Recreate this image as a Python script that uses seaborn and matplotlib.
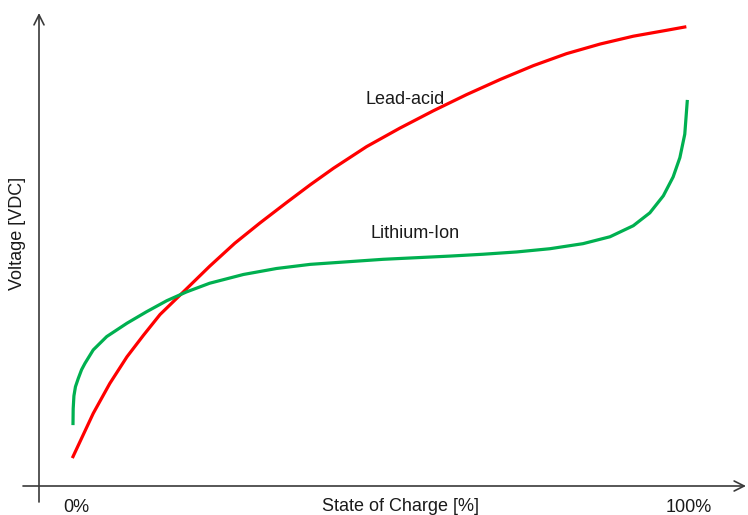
import seaborn as sns
import matplotlib.pyplot as plt
import pandas as pd

plt.rcParams['font.family'] = ['Liberation Sans', 'DejaVu Sans']

# state of charge (%) vs voltage (arbitrary units)
lead_soc = [0, 3.3, 6.0, 8.8, 11.5, 14.2, 18.3, 22.3, 26.4, 30.5, 34.9, 38.7, 42.5, 47.9,
            53.3, 58.8, 64.2, 69.7, 75.1, 80.5, 86.0, 91.4, 96.9, 99.8]
lead_v = [6.6, 16.0, 22.5, 28.3, 33.0, 37.5, 42.8, 48.0, 53.0, 57.4, 61.9, 65.7, 69.3, 74.0,
          78.0, 81.8, 85.3, 88.6, 91.6, 94.2, 96.3, 98.0, 99.3, 100.0]

li_soc = [0, 0.03, 0.15, 0.4, 0.86, 1.4, 1.96, 3.3, 5.5, 8.8, 12.0, 15.3, 18.5, 22.3, 27.8,
          33.2, 38.7, 50.6, 61.5, 66.9, 72.4, 77.8, 83.2, 87.6, 91.4, 94.1, 96.3, 97.9, 99.0,
          99.8, 100.2]
li_v = [13.8, 17.0, 19.8, 21.8, 23.6, 25.5, 26.9, 29.8, 32.7, 35.6, 38.1, 40.5, 42.4, 44.3,
        46.2, 47.5, 48.4, 49.5, 50.2, 50.6, 51.1, 51.8, 52.9, 54.4, 56.8, 59.6, 63.3, 67.4,
        71.6, 76.7, 83.8]

x_ticks = [0, 100]
x_tick_labels = ['0%', '100%']

lead = pd.DataFrame({'soc': lead_soc, 'v': lead_v})
li = pd.DataFrame({'soc': li_soc, 'v': li_v})

fig = plt.figure(figsize=(7.48, 5.15), dpi=100)
ax = fig.add_axes([0, 0, 1, 1])
ax.set_xlim(-73 / 6.13, (748 - 73) / 6.13)
ax.set_ylim((487 - 515) / 4.6, 487 / 4.6)
ax.axis('off')

sns.lineplot(data=lead, x='soc', y='v', sort=False, estimator=None, color='#ff0000',
             lw=2.3, solid_joinstyle='round', ax=ax)
sns.lineplot(data=li, x='soc', y='v', sort=False, estimator=None, color='#00b050',
             lw=2.3, solid_joinstyle='round', ax=ax)

# axes drawn as arrows
arrow = dict(arrowstyle='->', lw=1.2, color='#3a3a3a', mutation_scale=18, shrinkA=0, shrinkB=0)
ax.annotate('', xy=(39 / 748, 1 - 13 / 515), xytext=(39 / 748, 1 - 502 / 515),
            xycoords='figure fraction', textcoords='figure fraction', arrowprops=arrow)
ax.annotate('', xy=(746 / 748, 1 - 486 / 515), xytext=(23 / 748, 1 - 486 / 515),
            xycoords='figure fraction', textcoords='figure fraction', arrowprops=arrow)

for t, lab in zip(x_ticks, x_tick_labels):
    ax.text(t + 0.5, -4.4, lab, ha='center', va='center', fontsize=13, color='#1a1a1a')

ax.text(53.5, -4.2, 'State of Charge [%]', ha='center', va='center', fontsize=13, color='#1a1a1a')
ax.text(-9.0, 55.2, 'Voltage [VDC]', ha='center', va='center', rotation=90, fontsize=13, color='#1a1a1a')
ax.text(54.2, 84.3, 'Lead-acid', ha='center', va='center', fontsize=13, color='#1a1a1a')
ax.text(55.8, 55.0, 'Lithium-Ion', ha='center', va='center', fontsize=13, color='#1a1a1a')

plt.savefig('out.png', dpi=100)
